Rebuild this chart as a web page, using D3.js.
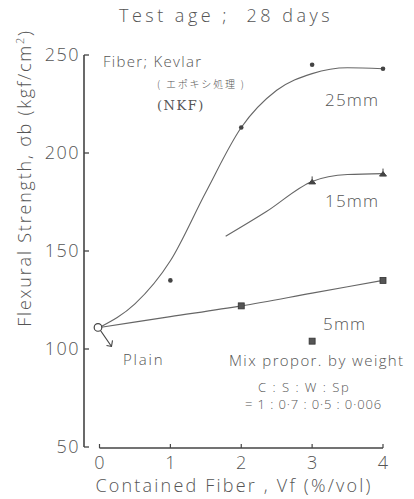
<!DOCTYPE html>
<html><head><meta charset="utf-8">
<script src="https://cdn.jsdelivr.net/npm/d3@7"></script>
<style>
html,body{margin:0;padding:0;background:#fff;}
text{font-family:"Open Sans","DejaVu Sans",sans-serif;font-weight:300;fill:#555;white-space:pre;}
</style></head>
<body>
<svg id="c" width="414" height="499"></svg>
<script>
// ---- data ----
const xTicks = [0, 1, 2, 3, 4];
const yTicks = [50, 100, 150, 200, 250];
const plain = [0, 111];
const pts25 = [[1, 135], [2, 213], [3, 245], [4, 243]];
const pts15 = [[3, 185.5], [4, 189.5]];
const pts5 = [[2, 122], [3, 104], [4, 135]];
const fit25 = [[0, 111], [0.5, 123], [1, 145], [1.5, 180], [2, 213], [2.5, 232], [3, 240.5], [3.5, 243.5], [4, 243]];
const fit15 = [[1.78, 157.5], [2.35, 170], [3, 185.5], [3.5, 189], [4, 189.5]];
const fit5 = [[0, 111], [1, 116.5], [2, 122], [3, 128.5], [4, 135]];

const svg = d3.select("#c");
const x = d3.scaleLinear().domain([0, 4]).range([99.5, 383]);
const y = d3.scaleLinear().domain([50, 250]).range([447, 55]);
const axisX = 84;
const ink = "#444";

// title
svg.append("text").attr("x", 226).attr("y", 22).attr("text-anchor", "middle")
  .attr("font-size", 18).attr("letter-spacing", 3.5).text("Test age ;  28 days");

// y axis
svg.append("line").attr("x1", axisX).attr("x2", axisX).attr("y1", y(250)).attr("y2", y(50))
  .attr("stroke", ink).attr("stroke-width", 1.6);
yTicks.forEach(t => {
  svg.append("line").attr("x1", axisX).attr("x2", axisX + 5).attr("y1", y(t)).attr("y2", y(t))
    .attr("stroke", ink).attr("stroke-width", 1.3);
  svg.append("text").attr("x", axisX - 4).attr("y", y(t) + 6).attr("text-anchor", "end")
    .attr("font-size", 18).attr("letter-spacing", 1.5).text(t);
});

// x axis
svg.append("line").attr("x1", x(0)).attr("x2", x(4)).attr("y1", y(50) + 1).attr("y2", y(50) + 1)
  .attr("stroke", ink).attr("stroke-width", 1.3);
xTicks.forEach(t => {
  svg.append("line").attr("x1", x(t)).attr("x2", x(t)).attr("y1", y(50) + 1).attr("y2", y(50) - 3)
    .attr("stroke", ink).attr("stroke-width", 1.2);
  svg.append("text").attr("x", x(t)).attr("y", 469).attr("text-anchor", "middle")
    .attr("font-size", 18).text(t);
});
svg.append("text").attr("x", 234).attr("y", 492).attr("text-anchor", "middle")
  .attr("font-size", 18).attr("letter-spacing", 2.2).text("Contained Fiber , Vf (%/vol)");
svg.append("text").attr("transform", "translate(31,178) rotate(-90)").attr("text-anchor", "middle")
  .attr("font-size", 18).attr("letter-spacing", 1.8)
  .html('Flexural Strength, σb (kgf/cm<tspan dy="-7" font-size="11">2</tspan><tspan dy="7">)</tspan>');

// curves
const line = d3.line().x(d => x(d[0])).y(d => y(d[1])).curve(d3.curveMonotoneX);
[fit25, fit15, fit5].forEach(f => {
  svg.append("path").attr("d", line(f)).attr("fill", "none").attr("stroke", "#666").attr("stroke-width", 1.1);
});

// markers
svg.selectAll(".m25").data(pts25).enter().append("circle")
  .attr("cx", d => x(d[0])).attr("cy", d => y(d[1])).attr("r", 2.3).attr("fill", "#444");
svg.selectAll(".m15").data(pts15).enter().append("path")
  .attr("transform", d => `translate(${x(d[0])},${y(d[1])})`)
  .attr("d", "M0,-5 L0,0 M-3.5,2.5 L0,-2 L3.5,2.5 Z").attr("fill", "#444").attr("stroke", "#444").attr("stroke-width", 1);
svg.selectAll(".m5").data(pts5).enter().append("rect")
  .attr("x", d => x(d[0]) - 3).attr("y", d => y(d[1]) - 3).attr("width", 6).attr("height", 6)
  .attr("fill", "#555").attr("stroke", "#333").attr("stroke-width", 0.8);

// plain
svg.append("circle").attr("cx", x(plain[0]) - 1.5).attr("cy", y(plain[1])).attr("r", 3.8)
  .attr("fill", "#fff").attr("stroke", "#444").attr("stroke-width", 1.2);
const ax0 = x(plain[0]) + 1, ay0 = y(plain[1]) + 3, ax1 = ax0 + 11, ay1 = ay0 + 16;
svg.append("line").attr("x1", ax0).attr("y1", ay0).attr("x2", ax1).attr("y2", ay1)
  .attr("stroke", "#444").attr("stroke-width", 1.1);
svg.append("path").attr("d", `M${ax1 - 5},${ay1 - 1} L${ax1},${ay1} L${ax1 + 1},${ay1 - 6}`)
  .attr("fill", "none").attr("stroke", "#444").attr("stroke-width", 1.1);

// annotations
svg.append("text").attr("x", 103).attr("y", 67).attr("font-size", 15).attr("letter-spacing", 1.3).text("Fiber; Kevlar");
svg.append("text").attr("x", 157).attr("y", 88).attr("font-size", 10).attr("letter-spacing", 1.8)
  .style("font-family", "'Noto Sans CJK JP',sans-serif").attr("fill", "#777").text("( エポキシ処理 )");
svg.append("text").attr("x", 157).attr("y", 110).attr("font-size", 13).attr("letter-spacing", 1.5)
  .style("font-family", "'DejaVu Serif',serif").style("font-weight", "normal").attr("fill", "#999").text("(NKF)");
svg.append("text").attr("x", 325).attr("y", 106).attr("font-size", 17).attr("letter-spacing", 1.2).text("25mm");
svg.append("text").attr("x", 325).attr("y", 207).attr("font-size", 17).attr("letter-spacing", 1.2).text("15mm");
svg.append("text").attr("x", 323).attr("y", 330).attr("font-size", 17).attr("letter-spacing", 1.2).text("5mm");
svg.append("text").attr("x", 123).attr("y", 365).attr("font-size", 15).attr("letter-spacing", 1.8).text("Plain");
svg.append("text").attr("x", 229).attr("y", 366).attr("font-size", 15).attr("letter-spacing", 1.4).text("Mix propor. by weight");
svg.append("text").attr("x", 258).attr("y", 392).attr("font-size", 13).attr("letter-spacing", 1.5).text("C : S : W : Sp");
svg.append("text").attr("x", 245).attr("y", 409).attr("font-size", 13).attr("letter-spacing", 0.9).text("= 1 : 0·7 : 0·5 : 0·006");
</script>
</body></html>
